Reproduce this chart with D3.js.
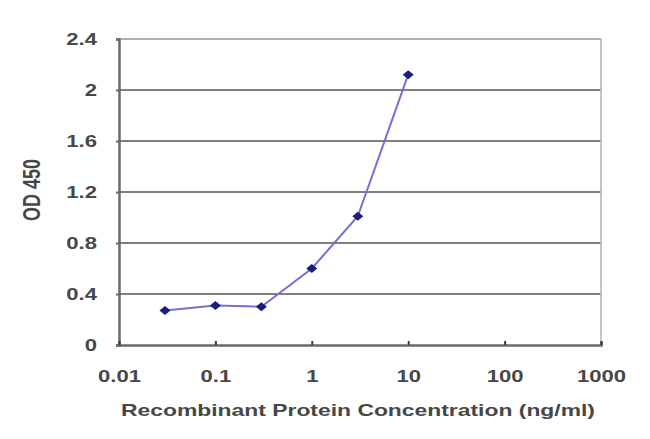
<!DOCTYPE html>
<html>
<head>
<meta charset="utf-8">
<script src="https://cdn.jsdelivr.net/npm/d3@7"></script>
<style>
  body { margin: 0; background: #fff; }
  svg { display: block; }
  text { font-family: "Liberation Sans", Arial, sans-serif; font-weight: bold; fill: #474747; }
</style>
</head>
<body>
<div id="chart"></div>
<script>
// concentration (ng/ml) and OD 450 readings
const concentrations = [0.03, 0.1, 0.3, 1, 3, 10];
const odValues = [0.27, 0.31, 0.30, 0.60, 1.01, 2.12];
const xTicks = [0.01, 0.1, 1, 10, 100, 1000];
const yTicks = [0, 0.4, 0.8, 1.2, 1.6, 2, 2.4];

const width = 650, height = 439;
const margin = { left: 119, right: 49, top: 39, bottom: 94 };
const stretch = 1.3; // the source text is wider than it is tall

const svg = d3.select("#chart").append("svg")
  .attr("width", width)
  .attr("height", height);

const x = d3.scaleLog()
  .domain([0.01, 1000])
  .range([margin.left, width - margin.right]);

const y = d3.scaleLinear()
  .domain([0, 2.4])
  .range([height - margin.bottom, margin.top]);

// grid lines
svg.append("g")
  .selectAll("line")
  .data(yTicks.slice(1))
  .join("line")
  .attr("x1", margin.left)
  .attr("x2", width - margin.right)
  .attr("y1", d => y(d))
  .attr("y2", d => y(d))
  .attr("stroke", d => d === 2.4 ? "#b0b0b0" : "#7f7f7f")
  .attr("stroke-width", 2);

// right border
svg.append("line")
  .attr("x1", width - margin.right)
  .attr("x2", width - margin.right)
  .attr("y1", margin.top)
  .attr("y2", height - margin.bottom)
  .attr("stroke", "#b0b0b0")
  .attr("stroke-width", 1.5);

// y axis
const yAxis = svg.append("g")
  .attr("transform", `translate(${margin.left},0)`)
  .call(d3.axisLeft(y).tickValues(yTicks).tickFormat(d3.format("~g")).tickSize(3));
yAxis.select(".domain").attr("stroke", "#6a6a6a").attr("stroke-width", 2.5);
yAxis.selectAll(".tick line").attr("stroke", "#6a6a6a").attr("stroke-width", 2);
yAxis.selectAll("text")
  .style("font-size", "17px")
  .attr("x", -22 / stretch)
  .attr("transform", `scale(${stretch},1)`);

// x axis
const xAxis = svg.append("g")
  .attr("transform", `translate(0,${height - margin.bottom})`)
  .call(d3.axisBottom(x).tickValues(xTicks).tickFormat(d3.format("~g")).tickSize(-4).tickPadding(25));
xAxis.select(".domain").attr("stroke", "#6a6a6a").attr("stroke-width", 2.5);
xAxis.selectAll(".tick line").attr("stroke", "#3a3a3a").attr("stroke-width", 2);
xAxis.selectAll("text")
  .style("font-size", "17px")
  .attr("transform", `scale(${stretch},1)`);

// axis titles
svg.append("text")
  .attr("x", 358)
  .attr("y", 416)
  .attr("text-anchor", "middle")
  .attr("textLength", 474)
  .attr("lengthAdjust", "spacingAndGlyphs")
  .style("font-size", "17px")
  .text("Recombinant Protein Concentration (ng/ml)");

svg.append("text")
  .attr("transform", `translate(40,190) rotate(-90) scale(1,${stretch})`)
  .attr("text-anchor", "middle")
  .style("font-size", "18px")
  .text("OD 450");

// data line
const points = concentrations.map((c, i) => [c, odValues[i]]);
svg.append("path")
  .datum(points)
  .attr("fill", "none")
  .attr("stroke", "#7272d2")
  .attr("stroke-width", 2)
  .attr("d", d3.line().x(d => x(d[0])).y(d => y(d[1])));

// diamond markers, a bit wider than tall
svg.append("g")
  .selectAll("path")
  .data(points)
  .join("path")
  .attr("transform", d => `translate(${x(d[0])},${y(d[1])})`)
  .attr("d", "M-5.5,0L0,-4.5L5.5,0L0,4.5Z")
  .attr("fill", "#1c1c7a");
</script>
</body>
</html>
